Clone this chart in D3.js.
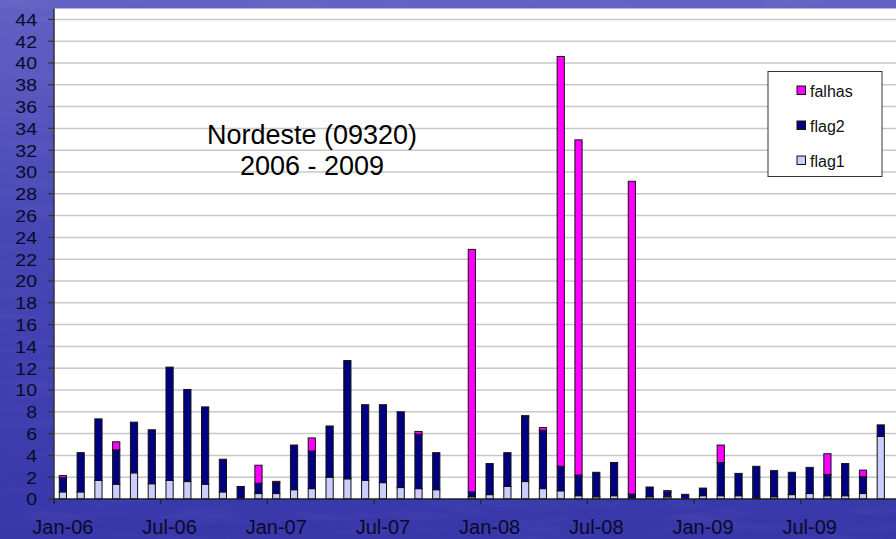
<!DOCTYPE html>
<html><head><meta charset="utf-8">
<script src="https://cdn.jsdelivr.net/npm/d3@7"></script>
<style>html,body{margin:0;padding:0;background:#4444b0;overflow:hidden}svg{display:block}</style>
</head><body>
<script>
const months = ["Jan-06","Feb-06","Mar-06","Apr-06","May-06","Jun-06","Jul-06","Aug-06","Sep-06","Oct-06","Nov-06","Dec-06",
"Jan-07","Feb-07","Mar-07","Apr-07","May-07","Jun-07","Jul-07","Aug-07","Sep-07","Oct-07","Nov-07","Dec-07",
"Jan-08","Feb-08","Mar-08","Apr-08","May-08","Jun-08","Jul-08","Aug-08","Sep-08","Oct-08","Nov-08","Dec-08",
"Jan-09","Feb-09","Mar-09","Apr-09","May-09","Jun-09","Jul-09","Aug-09","Sep-09","Oct-09","Nov-09"];
const flag1 = [0.65,0.65,1.7,1.35,2.4,1.4,1.7,1.6,1.35,0.65,0,0.5,
0.5,0.85,0.95,2.0,1.85,1.7,1.5,1.05,0.95,0.85,0,0.2,
0.4,1.15,1.6,0.95,0.75,0.3,0.2,0.3,0.1,0.2,0.2,0,
0.3,0.3,0.3,0.1,0.2,0.4,0.5,0.3,0.3,0.5,5.75];
const flag2 = [1.3,3.6,5.65,3.15,4.65,4.95,10.4,8.45,7.1,3.0,1.15,0.95,
1.0,4.1,3.45,4.7,10.85,6.95,7.15,6.95,5.0,3.4,0,0.45,
2.85,3.1,5.95,5.35,2.25,1.9,2.25,3.05,0.35,0.9,0.45,0.43,
0.7,3.05,2.05,2.9,2.4,2.05,2.4,1.95,2.95,1.55,1.05];
const falhas = [0.2,0,0,0.75,0,0,0,0,0,0,0,1.65,
0.12,0,1.2,0,0,0,0,0,0.25,0,0,22.25,
0,0,0.1,0.25,37.6,30.75,0,0,28.7,0,0.12,0,
0,1.6,0,0,0,0,0,1.9,0,0.6,0];
const seriesNames = ["flag1","flag2","falhas"];
const seriesColors = ["#ccccff","#000080","#ff00ff"];
const legendOrder = ["falhas","flag2","flag1"];
const xTickLabels = ["Jan-06","Jul-06","Jan-07","Jul-07","Jan-08","Jul-08","Jan-09","Jul-09"];
const yTicks = d3.range(0, 45, 2);
const titleLines = ["Nordeste (09320)","2006 - 2009"];

const W = 896, H = 539;
const svg = d3.select("body").append("svg").attr("width", W).attr("height", H);
const defs = svg.append("defs");
const grad = defs.append("linearGradient").attr("id","bg").attr("x1",0).attr("y1",0).attr("x2",0).attr("y2",1);
grad.append("stop").attr("offset","0%").attr("stop-color","#6262c4");
grad.append("stop").attr("offset","45%").attr("stop-color","#4646b4");
grad.append("stop").attr("offset","100%").attr("stop-color","#3737aa");
const filt = defs.append("filter").attr("id","tex").attr("x",0).attr("y",0).attr("width","100%").attr("height","100%");
filt.append("feTurbulence").attr("type","fractalNoise").attr("baseFrequency","0.012 0.09").attr("numOctaves",3).attr("seed",4).attr("result","n");
filt.append("feColorMatrix").attr("in","n").attr("type","matrix")
  .attr("values","0 0 0 0 0.55  0 0 0 0 0.55  0 0 0 0 0.95  1.2 0 0 0 -0.55");
svg.append("rect").attr("width",W).attr("height",H).attr("fill","url(#bg)");
svg.append("rect").attr("width",W).attr("height",H).attr("filter","url(#tex)").attr("opacity",0.12);

const left = 54, bw = 17.78;
const x = d3.scaleBand().domain(months).range([left, left + months.length * bw]).paddingInner(0).paddingOuter(0);
const y = d3.scaleLinear().domain([0, 45]).range([499, 8.5]);

// plot area
svg.append("rect").attr("x", left).attr("y", y(45)).attr("width", W - left).attr("height", y(0) - y(45)).attr("fill", "#fff");

// gridlines
svg.append("g").selectAll("line").data(yTicks.filter(d => d > 0)).join("line")
  .attr("x1", left).attr("x2", W).attr("y1", d => y(d)).attr("y2", d => y(d))
  .attr("stroke", "#c8c8c8").attr("stroke-width", 1.5);

// title
svg.append("g").selectAll("text").data(titleLines).join("text")
  .attr("x", 312).attr("y", (d, i) => 144 + i * 31)
  .attr("text-anchor", "middle").attr("font-family", "Liberation Sans, Arial, sans-serif")
  .attr("font-size", 27).attr("fill", "#000").text(d => d);

// stacked bars
const rows = months.map((m, i) => ({month: m, flag1: flag1[i], flag2: flag2[i], falhas: falhas[i]}));
const stack = d3.stack().keys(seriesNames)(rows);
const barW = 7.2;
const gBars = svg.append("g");
stack.forEach((layer, li) => {
  gBars.append("g").selectAll("rect").data(layer.filter(d => d[1] - d[0] > 0)).join("rect")
    .attr("x", d => x(d.data.month) + x.bandwidth() / 2 - barW / 2)
    .attr("width", barW)
    .attr("y", d => y(d[1]))
    .attr("height", d => y(d[0]) - y(d[1]))
    .attr("fill", seriesColors[li])
    .attr("stroke", "#111").attr("stroke-width", 1);
});

// y axis
svg.append("line").attr("x1", left).attr("x2", left).attr("y1", y(45)).attr("y2", y(0) + 5)
  .attr("stroke", "#333").attr("stroke-width", 1.5);
const gy = svg.append("g");
gy.selectAll("line").data(yTicks).join("line")
  .attr("x1", left - 6).attr("x2", left).attr("y1", d => y(d)).attr("y2", d => y(d))
  .attr("stroke", "#333").attr("stroke-width", 1.2);
gy.selectAll("text").data(yTicks).join("text")
  .attr("transform", d => `translate(37,${y(d) + 6.3}) scale(1.22,1)`)
  .attr("text-anchor", "end").attr("font-family", "Liberation Sans, Arial, sans-serif")
  .attr("font-size", 16).attr("fill", "#0a0a28").text(d => d);

// x axis
svg.append("line").attr("x1", left).attr("x2", W).attr("y1", y(0)).attr("y2", y(0))
  .attr("stroke", "#222").attr("stroke-width", 1.5);
const tickIdx = xTickLabels.map(l => months.indexOf(l));
svg.append("g").selectAll("line").data(tickIdx).join("line")
  .attr("x1", i => x(months[i])).attr("x2", i => x(months[i]))
  .attr("y1", y(0)).attr("y2", y(0) + 5).attr("stroke", "#222").attr("stroke-width", 1.2);
svg.append("g").selectAll("text").data(xTickLabels).join("text")
  .attr("x", d => x(d) + x.bandwidth() / 2).attr("y", 534)
  .attr("text-anchor", "middle").attr("font-family", "Liberation Sans, Arial, sans-serif")
  .attr("font-size", 20).attr("fill", "#0a0a28").text(d => d);

// legend
const lg = svg.append("g");
lg.append("rect").attr("x", 768).attr("y", 71.5).attr("width", 114).attr("height", 105)
  .attr("fill", "#fff").attr("stroke", "#333").attr("stroke-width", 1);
const items = lg.selectAll("g.it").data(legendOrder).join("g").attr("class","it")
  .attr("transform", (d, i) => `translate(797,${86 + i * 35})`);
items.append("rect").attr("width", 8.5).attr("height", 8.5)
  .attr("fill", d => seriesColors[seriesNames.indexOf(d)]).attr("stroke", "#111").attr("stroke-width", 1);
items.append("text").attr("x", 13).attr("y", 10.7).attr("font-family", "Liberation Sans, Arial, sans-serif")
  .attr("font-size", 16).attr("fill", "#111").text(d => d);
</script>
</body></html>
